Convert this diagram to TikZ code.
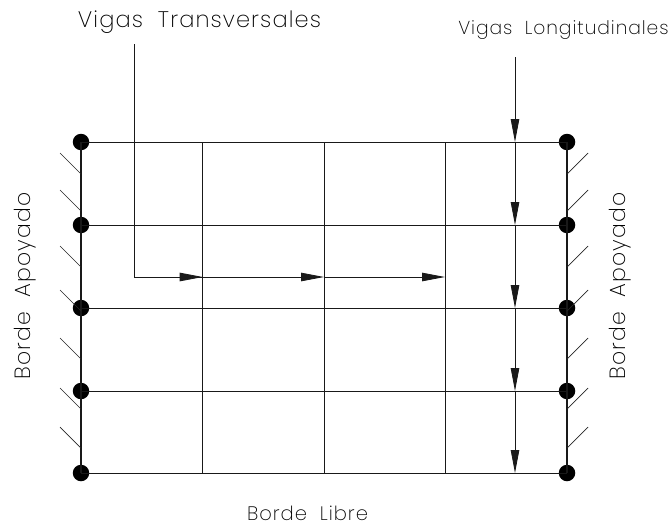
\documentclass[tikz,border=0pt]{standalone}
\usepackage{fontspec}
\usetikzlibrary{arrows.meta}
\newfontfamily\cadfont[UprightFont=* ExtraLight,LetterSpace=5]{Poppins}
\tikzset{
  x=1pt,y=-1pt,
  beam/.style={line width=0.85pt,black!90},
  edgeline/.style={line width=1.6pt,black!90},
  tick/.style={line width=0.7pt,black!85},
  joint/.style={circle,fill=black,inner sep=0pt,minimum size=16.5pt},
  headed/.style={beam,-{Triangle[length=23pt,width=8.5pt]}},
  lab/.style={inner sep=0pt,text=black,font=\cadfont},
}
\begin{document}
\begin{tikzpicture}
\useasboundingbox (0,0) rectangle (672,525);
% joints
\foreach \n/\y in {a/142,b/225,c/308,d/391,e/473}{
  \node[joint] (l\n) at (81,\y) {};
  \node[joint] (r\n) at (567,\y) {};
}
% free coordinates
\coordinate (t0) at (134,44);
\coordinate (t1) at (134,277);
\coordinate (t2) at (202.7,277);
\coordinate (t3) at (324,277);
\coordinate (t4) at (445,277);
\coordinate (v0) at (515,57);
\foreach \n/\y in {a/142,b/225,c/308,d/391,e/473}{
  \coordinate (v\n) at (515,\y);
}
\foreach \x/\k in {202.7/p,324/q,445/s}{
  \coordinate (\k top) at (\x,142);
  \coordinate (\k bot) at (\x,473);
}
% beams
\foreach \n in {a,b,c,d,e}{ \draw[beam] (l\n.center) -- (r\n.center); }
\foreach \k in {p,q,s}{ \draw[beam] (\k top) -- (\k bot); }
% edges
\draw[edgeline] (la.center) -- (le.center);
\draw[edgeline] (ra.center) -- (re.center);
% transverse leader
\draw[beam] (t0) -- (t1) -- (t2);
\draw[headed] (t1) -- (t2);
\draw[headed] (t2) -- (t3);
\draw[headed] (t3) -- (t4);
% longitudinal leader
\draw[headed] (v0) -- (va);
\draw[headed] (va) -- (vb);
\draw[headed] (vb) -- (vc);
\draw[headed] (vc) -- (vd);
\draw[headed] (vd) -- (ve);
% support ticks
\foreach \y in {153,190,246,290,338,388,427}{
  \draw[tick] (60,\y) -- ++(21,21);
  \draw[tick] (588,\y) -- ++(-21,21);
}
% labels
\node[lab,font=\cadfont\fontsize{22.5}{22.5}\selectfont] (vt) at (199.5,22) {Vigas\ \ Transversales};
\node[lab,font=\cadfont\fontsize{18.7}{18.7}\selectfont] (vl) at (563.5,30) {Vigas\ \ Longitudinales};
\node[lab,font=\cadfont\fontsize{19.5}{19.5}\selectfont] (bl) at (307.5,513) {Borde\ \ Libre};
\node[lab,font=\cadfont\fontsize{22}{22}\selectfont,rotate=90] (ba) at (25,286) {Borde\ \ Apoyado};
\node[lab,font=\cadfont\fontsize{22}{22}\selectfont,rotate=90] (bb) at (620,286) {Borde\ \ Apoyado};
\end{tikzpicture}
\end{document}
